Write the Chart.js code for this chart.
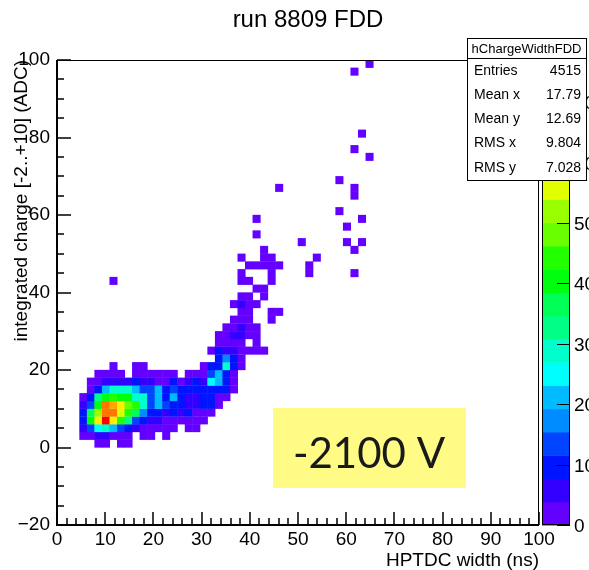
<!DOCTYPE html>
<html>
<head>
<meta charset="utf-8">
<script src="https://cdn.jsdelivr.net/npm/chart.js@4.4.0/dist/chart.umd.min.js"></script>
<style>
html, body { margin: 0; padding: 0; background: #fff; }
canvas { display: block; }
</style>
</head>
<body>
<canvas id="hist" width="589" height="570"></canvas>
<script>
// hChargeWidthFDD : HPTDC width (x) vs integrated charge (y), run 8809
var xBinWidth = 100 / 64;   // ns
var yBinWidth = 2;          // ADC

// one entry per row of cells: lower y edge, first x bin, counts from that bin on
var rowY = [0, 2, 4, 6, 8, 10, 12, 14, 16, 18, 20, 22, 24, 26, 28, 30, 32, 34, 36, 38, 40,
            42, 42, 44, 46, 48, 50, 52, 54, 56, 58, 60, 64, 66, 68, 74, 76, 80, 96, 98];
var rowStart = [5, 3, 3, 3, 3, 3, 3, 4, 4, 5, 7, 21, 20, 21, 21, 22, 23, 24, 23, 24, 26,
                7, 24, 24, 25, 24, 27, 32, 26, 38, 26, 37, 39, 29, 37, 41, 39, 40, 39, 41];
var rowCounts = [
  [1, 2, 0, 1, 1],
  [2, 3, 5, 4, 3, 2, 1, 0, 1, 1, 0, 1],
  [6, 12, 24, 28, 22, 14, 8, 4, 3, 2, 2, 1, 1, 0, 1, 1],
  [10, 40, 58, 77, 60, 45, 32, 14, 8, 5, 4, 3, 2, 2, 1, 2, 1],
  [8, 38, 52, 68, 66, 55, 46, 38, 16, 10, 8, 6, 10, 4, 9, 3, 3, 2],
  [4, 14, 42, 66, 64, 58, 48, 44, 30, 14, 20, 12, 10, 9, 4, 4, 9, 10, 3],
  [3, 10, 34, 40, 44, 42, 40, 30, 28, 12, 22, 10, 20, 10, 4, 4, 10, 9, 3, 2],
  [3, 10, 22, 28, 30, 29, 20, 12, 12, 20, 10, 12, 8, 8, 9, 11, 10, 10, 9, 3],
  [2, 3, 5, 6, 4, 5, 8, 6, 4, 3, 3, 10, 3, 6, 8, 6, 26, 20, 10, 3],
  [1, 2, 2, 1, 0, 2, 1, 2, 1, 1, 2, 0, 2, 2, 3, 14, 22, 10, 3],
  [1, 0, 0, 1, 1, 0, 0, 0, 0, 0, 0, 0, 2, 9, 10, 30, 9, 3],
  [9, 16, 9, 3],
  [1, 9, 5, 4, 2, 2, 2, 1],
  [2, 3, 2, 2, 0, 1],
  [2, 3, 4, 5, 3, 1],
  [2, 3, 5, 3, 2],
  [2, 3, 3, 0, 0, 1],
  [2, 2, 0, 0, 1, 1],
  [1, 5, 3, 2],
  [2, 1, 0, 1],
  [1, 1],
  [1],
  [1, 1, 0, 0, 1],
  [1, 0, 0, 0, 1, 0, 0, 0, 0, 1, 0, 0, 0, 0, 0, 1],
  [1, 1, 1, 1, 1, 0, 0, 0, 1],
  [1, 0, 0, 1, 1, 0, 0, 0, 0, 0, 1],
  [1, 0, 0, 0, 0, 0, 0, 0, 0, 0, 0, 0, 1],
  [1, 0, 0, 0, 0, 0, 1, 0, 1],
  [1],
  [1],
  [1, 0, 0, 0, 0, 0, 0, 0, 0, 0, 0, 0, 0, 0, 1],
  [1],
  [1],
  [1, 0, 0, 0, 0, 0, 0, 0, 0, 0, 1],
  [1],
  [1],
  [1],
  [1],
  [1],
  [1]
];

var zMax = 77;
var paletteTicks = [0, 10, 20, 30, 40, 50, 60, 70];
var statNames = ['Entries', 'Mean x', 'Mean y', 'RMS x', 'RMS y'];
var statValues = ['4515', '17.79', '12.69', '9.804', '7.028'];
var histName = 'hChargeWidthFDD';
var titleText = 'run 8809 FDD';
var noteText = '-2100 V';

// ROOT "pretty palette" with 20 contour levels
var palette = [];
for (var b = 0; b < 20; b++) {
  var idx = Math.floor((b + 0.99) * 50 / 20);
  palette.push('hsl(' + (280 - (idx + 1) * 5.6) + ',100%,50%)');
}
function colorFor(n) {
  return palette[Math.min(19, Math.floor(n / zMax * 20))];
}

var cells = [];
for (var r = 0; r < rowY.length; r++) {
  for (var c = 0; c < rowCounts[r].length; c++) {
    var n = rowCounts[r][c];
    if (n > 0) cells.push({ x: (rowStart[r] + c + 0.5) * xBinWidth, y: rowY[r] + yBinWidth / 2, n: n });
  }
}

var FONT = '"Liberation Sans", Arial, sans-serif';
Chart.defaults.font.family = FONT;
Chart.defaults.color = '#000';

var decor = {
  id: 'decor',
  afterDraw: function (chart) {
    var ctx = chart.ctx, a = chart.chartArea, x = chart.scales.x, y = chart.scales.y;
    var v, px, py, len;
    ctx.save();

    // frame
    ctx.strokeStyle = '#000';
    ctx.lineWidth = 1;
    ctx.strokeRect(a.left + 0.5, a.top + 0.5, a.right - a.left - 1, a.bottom - a.top - 1);
    ctx.lineWidth = 2;
    ctx.beginPath();
    ctx.moveTo(a.left, a.top); ctx.lineTo(a.left, a.bottom); ctx.lineTo(a.right, a.bottom);
    ctx.stroke();

    // ticks inside the frame
    ctx.lineWidth = 1.5;
    ctx.beginPath();
    for (v = 0; v <= 100; v += 2) {
      px = Math.round(x.getPixelForValue(v));
      len = v % 10 === 0 ? 13 : 7;
      ctx.moveTo(px, a.bottom); ctx.lineTo(px, a.bottom - len);
    }
    for (v = -20; v <= 100; v += 5) {
      py = Math.round(y.getPixelForValue(v));
      len = v % 20 === 0 ? 14 : 7;
      ctx.moveTo(a.left, py); ctx.lineTo(a.left + len, py);
    }
    ctx.stroke();

    // colour palette
    var pl = a.right + 3, pw = 28, H = a.bottom - a.top;
    for (var k = 0; k < 20; k++) {
      ctx.fillStyle = palette[k];
      ctx.fillRect(pl, a.bottom - (k + 1) * H / 20, pw, H / 20 + 0.5);
    }
    ctx.lineWidth = 1;
    ctx.strokeStyle = '#000';
    ctx.strokeRect(pl + 0.5, a.top + 0.5, pw - 1, H - 1);
    ctx.beginPath();
    ctx.fillStyle = '#000';
    ctx.font = '19px ' + FONT;
    ctx.textAlign = 'left';
    ctx.textBaseline = 'middle';
    paletteTicks.forEach(function (t) {
      var ty = Math.round(a.bottom - t / zMax * H) + 0.5;
      ctx.moveTo(pl + pw - 13, ty); ctx.lineTo(pl + pw, ty);
      ctx.fillText(String(t), pl + pw + 4, ty + 1);
    });
    ctx.stroke();

    // stats box
    var sx = 467, sy = 38, sw = 119, sh = 142;
    ctx.fillStyle = '#fff';
    ctx.fillRect(sx, sy, sw, sh);
    ctx.strokeRect(sx + 0.5, sy + 0.5, sw, sh);
    ctx.beginPath();
    ctx.moveTo(sx, sy + 20.5); ctx.lineTo(sx + sw, sy + 20.5);
    ctx.stroke();
    ctx.fillStyle = '#000';
    ctx.font = '13px ' + FONT;
    ctx.textAlign = 'center';
    ctx.fillText(histName, sx + sw / 2, sy + 11);
    ctx.font = '14px ' + FONT;
    for (var s = 0; s < statNames.length; s++) {
      var ry = sy + 33 + s * 24.2;
      ctx.textAlign = 'left';
      ctx.fillText(statNames[s], sx + 7, ry);
      ctx.textAlign = 'right';
      ctx.fillText(statValues[s], sx + sw - 5, ry);
    }

    // title
    ctx.font = '24px ' + FONT;
    ctx.textAlign = 'center';
    ctx.fillText(titleText, 308, 20);

    // voltage note
    ctx.fillStyle = '#fffb84';
    ctx.fillRect(273, 408, 193, 80);
    ctx.fillStyle = '#1a1a1a';
    ctx.font = '42px Lato, "Open Sans", sans-serif';
    ctx.fillText(noteText, 369, 454);

    ctx.restore();
  }
};

new Chart(document.getElementById('hist'), {
  type: 'scatter',
  data: {
    datasets: [{
      data: cells,
      pointStyle: 'rect',
      borderWidth: 0,
      pointRadius: function (ctx) {
        var s = ctx.chart.scales;
        var w = Math.abs(s.x.getPixelForValue(xBinWidth) - s.x.getPixelForValue(0));
        var h = Math.abs(s.y.getPixelForValue(yBinWidth) - s.y.getPixelForValue(0));
        return (Math.max(w, h) + 0.3) / Math.SQRT2;
      },
      backgroundColor: function (ctx) { return ctx.raw ? colorFor(ctx.raw.n) : palette[0]; }
    }]
  },
  options: {
    responsive: false,
    animation: false,
    devicePixelRatio: 1,
    events: [],
    layout: { padding: { top: 60, right: 50, left: 0, bottom: 0 } },
    plugins: { legend: { display: false }, tooltip: { enabled: false }, title: { display: false } },
    scales: {
      x: {
        type: 'linear', min: 0, max: 100,
        afterFit: function (s) { s.height = 45; s.paddingLeft = 0; s.paddingRight = 0; },
        grid: { display: false, drawTicks: false },
        border: { display: false },
        ticks: { stepSize: 10, font: { size: 19 }, padding: 3, maxRotation: 0, autoSkip: false },
        title: { display: true, text: 'HPTDC width (ns)', align: 'end', font: { size: 19, lineHeight: 1 }, padding: 0 }
      },
      y: {
        type: 'linear', min: -20, max: 100,
        afterFit: function (s) { s.width = 57; s.paddingTop = 0; s.paddingBottom = 0; },
        grid: { display: false, drawTicks: false },
        border: { display: false },
        ticks: {
          stepSize: 20, font: { size: 19 }, padding: 7,
          callback: function (v) { return String(v).replace('-', '\u2212'); }
        },
        title: { display: true, text: 'integrated charge [-2..+10] (ADC)', align: 'end', font: { size: 19, lineHeight: 1 }, padding: { top: 12, bottom: 0 } }
      }
    }
  },
  plugins: [decor]
});
</script>
</body>
</html>
